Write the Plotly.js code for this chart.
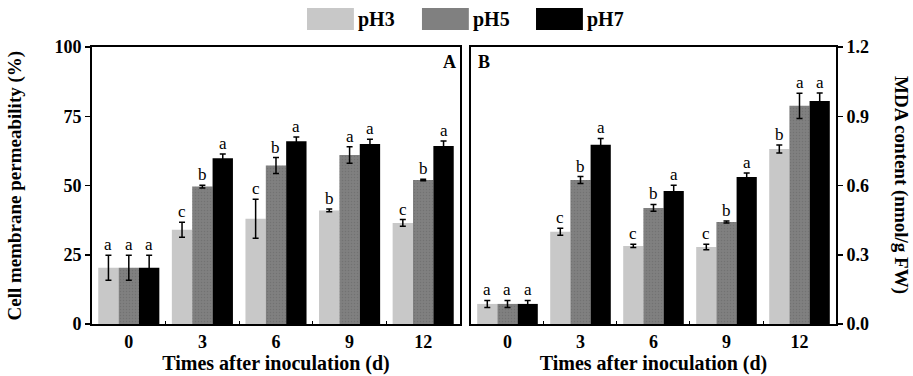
<!DOCTYPE html>
<html>
<head>
<meta charset="utf-8">
<script src="https://cdn.plot.ly/plotly-3.0.1.min.js"></script>
<style>html,body{margin:0;padding:0;background:#fff;}#chart{width:913px;height:376px;}</style>
</head>
<body>
<div id="chart"></div>
<script>
const days = ['0', '3', '6', '9', '12'];
const seriesNames = ['pH3', 'pH5', 'pH7'];

const permPH3 = [20.3, 34.0, 38.0, 41.0, 36.5];
const permPH3Err = [4.5, 2.7, 7.0, 0.5, 1.2];
const permPH5 = [20.3, 49.6, 57.2, 61.0, 52.0];
const permPH5Err = [4.5, 0.5, 2.9, 3.0, 0.3];
const permPH7 = [20.3, 59.8, 66.0, 65.0, 64.3];
const permPH7Err = [4.5, 1.6, 1.5, 1.7, 1.8];
const permLetters = [['a','c','c','b','c'], ['a','b','b','a','b'], ['a','a','a','a','a']];

const mdaPH3 = [0.087, 0.400, 0.338, 0.334, 0.758];
const mdaPH3Err = [0.015, 0.015, 0.007, 0.012, 0.017];
const mdaPH5 = [0.087, 0.624, 0.503, 0.442, 0.945];
const mdaPH5Err = [0.015, 0.015, 0.015, 0.004, 0.055];
const mdaPH7 = [0.087, 0.776, 0.576, 0.637, 0.966];
const mdaPH7Err = [0.015, 0.028, 0.025, 0.017, 0.035];
const mdaLetters = [['a','c','c','c','b'], ['a','b','b','b','a'], ['a','a','a','a','a']];

const colors = ['#c8c8c8', '#808080', '#000000'];
const serif = 'Liberation Serif, Times New Roman, serif';
const bargap = 0.17;

const permVals = [permPH3, permPH5, permPH7];
const permErrs = [permPH3Err, permPH5Err, permPH7Err];
const mdaVals = [mdaPH3, mdaPH5, mdaPH7];
const mdaErrs = [mdaPH3Err, mdaPH5Err, mdaPH7Err];

const pattern5 = {shape: '.', fgcolor: '#727272', bgcolor: '#808080', size: 3, solidity: 0.2};

const traces = [];
function addPanel(vals, errs, xa, ya) {
  for (let s = 0; s < 3; s++) {
    const m = {color: colors[s], line: {width: 0}};
    if (s === 1) m.pattern = pattern5;
    traces.push({
      type: 'bar', name: seriesNames[s], x: days, y: vals[s],
      xaxis: xa, yaxis: ya, marker: m, showlegend: false,
      error_y: {type: 'data', array: errs[s], visible: true, color: '#000', thickness: 1.5, width: 3}
    });
  }
}
addPanel(permVals, permErrs, 'x', 'y');
addPanel(mdaVals, mdaErrs, 'x2', 'y2');

const annotations = [];
const shapes = [];
const off = (1 - bargap) / 3;
function addLetters(vals, errs, letters, xr, yr) {
  for (let s = 0; s < 3; s++) {
    for (let i = 0; i < days.length; i++) {
      annotations.push({
        x: i + (s - 1) * off, y: vals[s][i] + errs[s][i], xref: xr, yref: yr,
        text: letters[s][i], showarrow: false, yanchor: 'bottom', yshift: -1,
        font: {family: serif, size: 17, color: '#000'}
      });
    }
  }
}
addLetters(permVals, permErrs, permLetters, 'x', 'y');
addLetters(mdaVals, mdaErrs, mdaLetters, 'x2', 'y2');

// custom legend (large swatches like the reference)
const legX0 = [0.289, 0.4435, 0.5968];
const legW = 0.063;
for (let s = 0; s < 3; s++) {
  shapes.push({type: 'rect', xref: 'paper', yref: 'paper', x0: legX0[s], x1: legX0[s] + legW, y0: 1.061, y1: 1.141,
    fillcolor: colors[s], line: {width: 0}});
  annotations.push({text: '<b>' + seriesNames[s] + '</b>', xref: 'paper', yref: 'paper', x: legX0[s] + legW + 0.003, y: 1.098,
    xanchor: 'left', yanchor: 'middle', showarrow: false, font: {family: serif, size: 20, color: '#000'}});
}

annotations.push({text: '<b>A</b>', xref: 'x domain', yref: 'y domain', x: 0.995, y: 0.99, xanchor: 'right', yanchor: 'top', showarrow: false, font: {family: serif, size: 18, color: '#000'}});
annotations.push({text: '<b>B</b>', xref: 'x2 domain', yref: 'y2 domain', x: 0.015, y: 0.99, xanchor: 'left', yanchor: 'top', showarrow: false, font: {family: serif, size: 18, color: '#000'}});
annotations.push({text: '<b>Cell membrane permeability (%)</b>', xref: 'paper', yref: 'paper', x: -0.1035, y: 0.5, textangle: -90, showarrow: false, xanchor: 'center', yanchor: 'middle', font: {family: serif, size: 19, color: '#000'}});
annotations.push({text: '<b>MDA content (nmol/g FW)</b>', xref: 'paper', yref: 'paper', x: 1.088, y: 0.5, textangle: 90, showarrow: false, xanchor: 'center', yanchor: 'middle', font: {family: serif, size: 19, color: '#000'}});

const tickFont = {family: serif, size: 18, color: '#000', weight: 'bold'};
const titleFont = {family: serif, size: 20, color: '#000', weight: 'bold'};
const xBase = {
  type: 'category', showline: true, linecolor: '#000', linewidth: 2, mirror: true,
  ticks: 'inside', tickson: 'boundaries', ticklen: 3, tickcolor: '#000', tickwidth: 1,
  tickfont: tickFont, showgrid: false, zeroline: false,
  title: {text: 'Times after inoculation (d)', font: titleFont, standoff: 2}
};
const layout = {
  width: 913, height: 376,
  margin: {l: 92, r: 77, t: 47, b: 52},
  paper_bgcolor: '#fff', plot_bgcolor: '#fff',
  barmode: 'group', bargap: bargap, bargroupgap: 0,
  showlegend: false,
  xaxis: Object.assign({}, xBase, {domain: [0, 0.4946], anchor: 'y'}),
  xaxis2: Object.assign({}, xBase, {domain: [0.5094, 1], anchor: 'y2'}),
  yaxis: {
    range: [0, 100], tickvals: [0, 25, 50, 75, 100], showline: true, linecolor: '#000', linewidth: 2, mirror: true,
    ticks: 'outside', ticklen: 5, tickcolor: '#000', tickwidth: 1.5, tickfont: tickFont,
    showgrid: false, zeroline: false, anchor: 'x'
  },
  yaxis2: {
    range: [0, 1.2], tickvals: [0, 0.3, 0.6, 0.9, 1.2], tickformat: '.1f', side: 'right',
    showline: true, linecolor: '#000', linewidth: 2, mirror: true,
    ticks: 'outside', ticklen: 5, tickcolor: '#000', tickwidth: 1.5, tickfont: tickFont,
    showgrid: false, zeroline: false, anchor: 'x2'
  },
  shapes: shapes,
  annotations: annotations
};
Plotly.newPlot('chart', traces, layout, {displayModeBar: false, staticPlot: true});
</script>
</body>
</html>
